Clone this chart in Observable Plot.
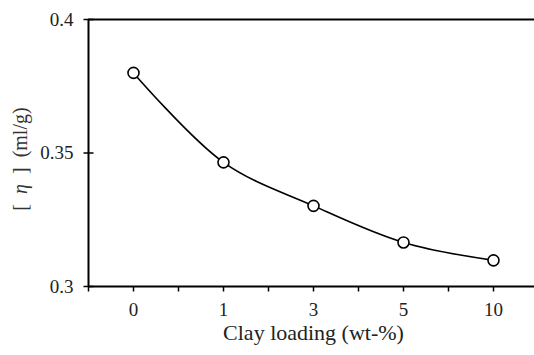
<!DOCTYPE html>
<html>
<head>
<meta charset="utf-8">
<script src="https://cdn.jsdelivr.net/npm/d3@7"></script>
<script src="https://cdn.jsdelivr.net/npm/@observablehq/plot@0.6"></script>
<style>
  html, body { margin: 0; padding: 0; background: #fff; }
  #chart svg { display: block; }
  #chart svg, #chart svg text { font-family: "Liberation Serif", "Times New Roman", serif !important; }
</style>
</head>
<body>
<div id="chart"></div>
<script>
// Clay loading categories (wt-%) and intrinsic viscosity [η] (ml/g)
const categories = ["0", "1", "3", "5", "10"];
const eta = [0.380, 0.3465, 0.3302, 0.3165, 0.3098];
const yTicks = [0.3, 0.35, 0.4];
const yTickLabels = ["0.3", "0.35", "0.4"];
const xTitle = "Clay loading (wt-%)";
const yTitle = "[ η ] (ml/g)";

const rows = categories.map((c, i) => ({pos: i, label: c, eta: eta[i]}));
// tick marks sit on each category and halfway between neighbours
const xTickPos = d3.range(-0.5, 4.51, 0.5);

const font = "Liberation Serif";

// short tick glyphs used as dot symbols
const hTick = {draw(ctx) { ctx.moveTo(-5, 0); ctx.lineTo(5, 0); }};
const vTick = {draw(ctx) { ctx.moveTo(0, 0); ctx.lineTo(0, 5); }};

const chart = Plot.plot({
  width: 534,
  height: 355,
  marginLeft: 88,
  marginTop: 19,
  marginBottom: 69,
  marginRight: 0,
  style: {fontFamily: font, fontSize: "19px", background: "#fff", color: "#111", overflow: "hidden"},
  x: {domain: [-0.5, 4.5], range: [88, 538], axis: null},
  y: {domain: [0.3, 0.4], axis: null},
  marks: [
    // frame: left axis, top and bottom lines
    Plot.ruleX([-0.5], {y1: 0.3, y2: 0.4, stroke: "#000", strokeWidth: 2}),
    Plot.ruleY([0.3, 0.4], {x1: -0.5, x2: 4.5, stroke: "#000", strokeWidth: 2}),
    // y ticks crossing the axis
    Plot.dot(yTicks, {x: -0.5, y: d => d, symbol: hTick, fill: "none", stroke: "#000", strokeWidth: 1.5}),
    Plot.text(yTicks, {
      y: d => d, frameAnchor: "left", dx: -15, textAnchor: "end",
      text: (d, i) => yTickLabels[i], fill: "#222", fontSize: 19, fontFamily: font
    }),
    // x ticks below the bottom line
    Plot.dot(xTickPos, {x: d => d, y: 0.3, symbol: vTick, fill: "none", stroke: "#000", strokeWidth: 1.5}),
    Plot.text(rows, {
      x: "pos", frameAnchor: "bottom", dy: 29, text: "label",
      fill: "#222", fontSize: 19, fontFamily: font
    }),
    // axis titles
    Plot.text([xTitle], {
      x: 2, frameAnchor: "bottom", dy: 53, text: d => d,
      fill: "#222", fontSize: 22, fontFamily: font
    }),
    Plot.text([yTitle], {
      frameAnchor: "left", textAnchor: "middle", dx: -68, dy: 6, rotate: -90, text: d => d,
      fill: "#333", fontSize: 20, fontFamily: font
    }),
    // smooth curve through the measurements
    Plot.line(rows, {x: "pos", y: "eta", curve: "catmull-rom", stroke: "#000", strokeWidth: 1.6}),
    Plot.dot(rows, {x: "pos", y: "eta", r: 5.5, fill: "#fff", stroke: "#000", strokeWidth: 1.6})
  ]
});

// italic eta inside the rotated y title
d3.select(chart).selectAll("text").each(function() {
  if (this.textContent === yTitle) {
    const t = d3.select(this);
    t.text(null).attr("xml:space", "preserve").style("white-space", "pre");
    t.append("tspan").text("[  ");
    t.append("tspan").attr("font-style", "italic").text("η");
    t.append("tspan").text("  ]  (ml/g)");
  }
});

document.getElementById("chart").appendChild(chart);
</script>
</body>
</html>
